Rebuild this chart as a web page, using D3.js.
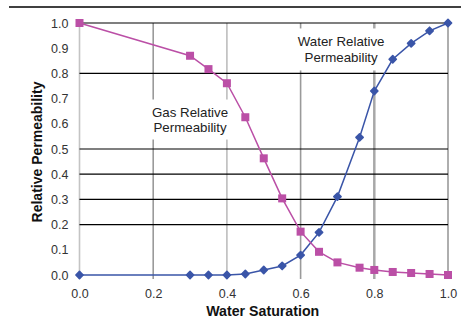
<!DOCTYPE html>
<html>
<head>
<meta charset="utf-8">
<script src="https://cdn.jsdelivr.net/npm/d3@7"></script>
<style>
  body { margin: 0; background: #fff; }
  svg { display: block; font-family: "Liberation Sans", Arial, sans-serif; }
</style>
</head>
<body>
<div id="chart"></div>
<script>
// values
const gasSw = [0.0, 0.3, 0.35, 0.4, 0.45, 0.5, 0.55, 0.6, 0.65, 0.7, 0.76, 0.8, 0.85, 0.9, 0.95, 1.0];
const gasKr = [1.0, 0.87, 0.817, 0.761, 0.626, 0.463, 0.304, 0.172, 0.092, 0.05, 0.029, 0.02, 0.012, 0.008, 0.004, 0.0];
const waterSw = [0.0, 0.3, 0.35, 0.4, 0.45, 0.5, 0.55, 0.6, 0.65, 0.7, 0.76, 0.8, 0.85, 0.9, 0.95, 1.0];
const waterKr = [0.0, 0.0, 0.0, 0.0, 0.004, 0.02, 0.036, 0.079, 0.169, 0.311, 0.546, 0.73, 0.856, 0.919, 0.969, 1.0];
const xTicks = [0, 0.2, 0.4, 0.6, 0.8, 1.0];
const yTicks = [0, 0.1, 0.2, 0.3, 0.4, 0.5, 0.6, 0.7, 0.8, 0.9, 1.0];
const hGrid = [0.2, 0.3, 0.4, 0.5, 0.8, 1.0];
const vGridColors = ["#c4c4c4", "#9a9a9a", "#bdbdbd", "#9a9a9a", "#a8a8a8", "#9a9a9a"];

const svgWidth = 461;
const svgHeight = 326;
const margin = { top: 23, right: 13, bottom: 51, left: 79.5 };
const width = svgWidth - margin.left - margin.right;
const height = svgHeight - margin.top - margin.bottom;

const root = d3.select("#chart")
  .append("svg")
  .attr("width", svgWidth)
  .attr("height", svgHeight);

// frame line across the top
root.append("line")
  .attr("x1", 9).attr("x2", svgWidth)
  .attr("y1", 7).attr("y2", 7)
  .attr("stroke", "#000").attr("stroke-width", 1.5);

const svg = root.append("g")
  .attr("transform", `translate(${margin.left},${margin.top})`);

const x = d3.scaleLinear().domain([0, 1]).range([0, width]);
const y = d3.scaleLinear().domain([0, 1]).range([height, 0]);

// vertical gray grid
svg.selectAll(".vgrid")
  .data(xTicks)
  .join("line")
  .attr("x1", d => x(d)).attr("x2", d => x(d))
  .attr("y1", 0).attr("y2", height + 4)
  .attr("stroke", (d, i) => vGridColors[i])
  .attr("stroke-width", (d, i) => i === 4 ? 2.5 : 1.6);

// horizontal black grid
svg.selectAll(".hgrid")
  .data(hGrid)
  .join("line")
  .attr("x1", 0).attr("x2", width)
  .attr("y1", d => y(d)).attr("y2", d => y(d))
  .attr("stroke", "#000").attr("stroke-width", 1.2);

// label boxes (white background hides grid)
const labels = [
  { lines: ["Gas Relative", "Permeability"], cx: 0.3, cy: 0.617, w: 86, h: 40, gap: 15 },
  { lines: ["Water Relative", "Permeability"], cx: 0.71, cy: 0.895, w: 102, h: 42, gap: 16 }
];
labels.forEach(l => {
  const g = svg.append("g")
    .attr("transform", `translate(${x(l.cx)},${y(l.cy)})`);
  g.append("rect")
    .attr("x", -l.w / 2).attr("y", -l.h / 2)
    .attr("width", l.w).attr("height", l.h)
    .attr("fill", "#fff");
  g.selectAll("text")
    .data(l.lines)
    .join("text")
    .attr("text-anchor", "middle")
    .attr("y", (d, i) => -3 + i * l.gap)
    .attr("font-size", 13.3)
    .attr("fill", "#222")
    .text(d => d);
});

// axes tick labels
const xAxis = svg.append("g")
  .attr("transform", `translate(0,${height})`)
  .call(d3.axisBottom(x).tickValues(xTicks).tickFormat(d3.format(".1f")).tickSize(0).tickPadding(14));
xAxis.select(".domain").remove();
xAxis.selectAll("text").attr("font-size", 12.5).attr("fill", "#333").attr("font-family", "Liberation Sans, Arial, sans-serif");

const yAxis = svg.append("g")
  .call(d3.axisLeft(y).tickValues(yTicks).tickFormat(d3.format(".1f")).tickSize(0).tickPadding(11));
yAxis.select(".domain").remove();
yAxis.selectAll("text").attr("font-size", 12.5).attr("fill", "#333").attr("font-family", "Liberation Sans, Arial, sans-serif");

// axis titles
root.append("text")
  .attr("x", margin.left + x(0.5) - 1)
  .attr("y", 316)
  .attr("text-anchor", "middle")
  .attr("font-size", 14.2)
  .attr("font-weight", "bold")
  .attr("fill", "#111")
  .text("Water Saturation");

root.append("text")
  .attr("transform", `translate(42,${margin.top + y(0.5) + 3}) rotate(-90)`)
  .attr("text-anchor", "middle")
  .attr("font-size", 14)
  .attr("font-weight", "bold")
  .attr("fill", "#111")
  .text("Relative Permeability");

const line = d3.line().x(d => x(d[0])).y(d => y(d[1]));
const water = waterSw.map((s, i) => [s, waterKr[i]]);
const gas = gasSw.map((s, i) => [s, gasKr[i]]);

// water series
svg.append("path")
  .datum(water)
  .attr("d", line)
  .attr("fill", "none")
  .attr("stroke", "#3a55a8")
  .attr("stroke-width", 1.5);
svg.selectAll(".wpt")
  .data(water)
  .join("path")
  .attr("transform", d => `translate(${x(d[0])},${y(d[1])}) rotate(45)`)
  .attr("d", d3.symbol(d3.symbolSquare, 26))
  .attr("fill", "#3a55a8")
  .attr("stroke", "#3a55a8")
  .attr("stroke-width", 1.6)
  .attr("stroke-linejoin", "round");

// gas series
svg.append("path")
  .datum(gas)
  .attr("d", line)
  .attr("fill", "none")
  .attr("stroke", "#bb4fa6")
  .attr("stroke-width", 1.5);
svg.selectAll(".gpt")
  .data(gas)
  .join("rect")
  .attr("x", d => x(d[0]) - 4)
  .attr("y", d => y(d[1]) - 4)
  .attr("width", 8)
  .attr("height", 8)
  .attr("fill", "#bb4fa6");
</script>
</body>
</html>
